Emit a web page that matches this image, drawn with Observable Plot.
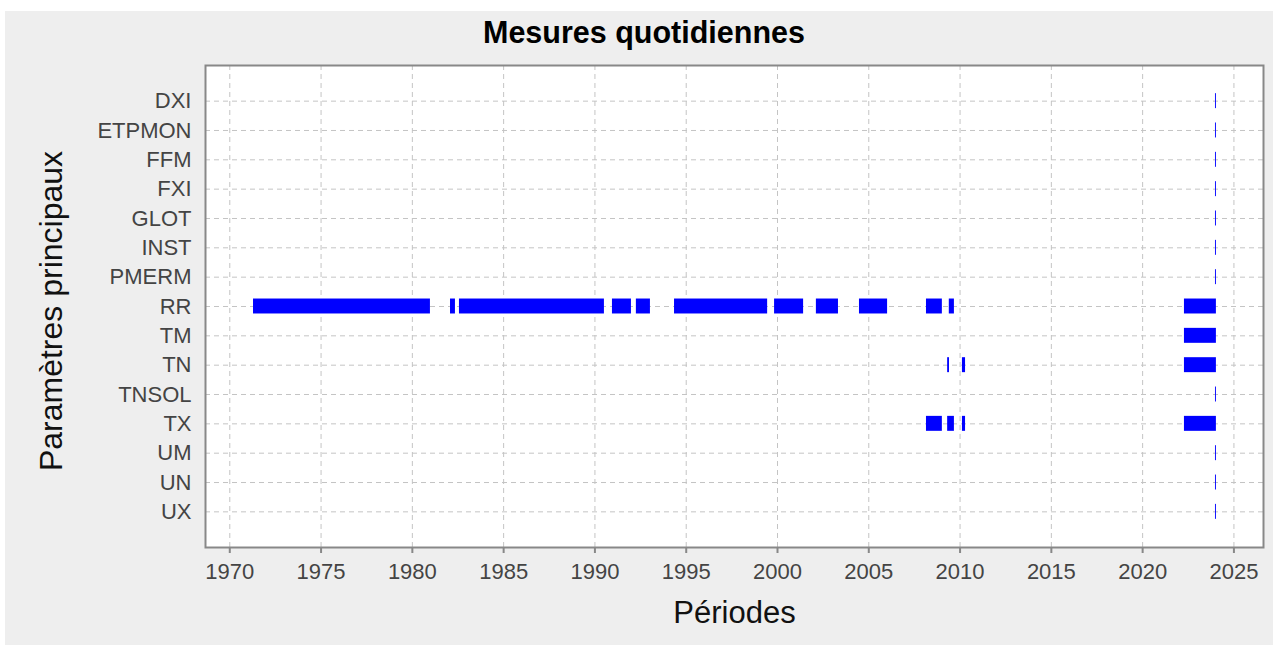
<!DOCTYPE html>
<html><head><meta charset="utf-8">
<script src="https://cdn.jsdelivr.net/npm/d3@7"></script>
<script src="https://cdn.jsdelivr.net/npm/@observablehq/plot@0.6"></script>
<style>
html,body{margin:0;padding:0;background:#fff;}
#panel{position:absolute;left:5px;top:11px;width:1268px;height:634px;background:#eeeeee;font-family:"Liberation Sans",Arial,sans-serif;}
#title{position:absolute;left:0;top:6px;width:1278px;text-align:center;font-weight:bold;font-size:30.5px;line-height:30px;color:#000;}
#chart{position:absolute;left:0;top:44px;}
</style></head><body>
<div id="panel"><div id="title">Mesures quotidiennes</div><div id="chart"></div></div>
<script>
const params = ["DXI","ETPMON","FFM","FXI","GLOT","INST","PMERM","RR","TM","TN","TNSOL","TX","UM","UN","UX"];

const segParam = [
  "RR","RR","RR","RR","RR","RR","RR","RR","RR","RR","RR","RR",
  "TM",
  "TN","TN","TN",
  "TX","TX","TX","TX",
  "DXI","ETPMON","FFM","FXI","GLOT","INST","PMERM","TNSOL","UM","UN","UX"
];
const segStart = [
  1971.30,1982.09,1982.58,1990.96,1992.27,1994.36,1999.84,2002.13,2004.49,2008.16,2009.41,2022.29,
  2022.29,
  2009.32,2010.13,2022.29,
  2008.16,2009.32,2010.13,2022.29,
  2023.99,2023.99,2023.99,2023.99,2023.99,2023.99,2023.99,2023.99,2023.99,2023.99,2023.99
];
const segEnd = [
  1980.99,1982.36,1990.52,1992.00,1993.04,1999.46,2001.43,2003.34,2006.03,2009.03,2009.69,2024.04,
  2024.04,
  2009.42,2010.30,2024.04,
  2009.03,2009.69,2010.30,2024.04,
  2024.04,2024.04,2024.04,2024.04,2024.04,2024.04,2024.04,2024.04,2024.04,2024.04,2024.04
];
const yearTicks = [1970,1975,1980,1985,1990,1995,2000,2005,2010,2015,2020,2025];
const xDomain = [1968.67, 2026.62];
const xLabel = "Périodes";
const yLabel = "Paramètres principaux";

const segments = segParam.map((p, i) => ({param: p, start: segStart[i], end: segEnd[i]}));

const plot = Plot.plot({
  width: 1268, height: 590,
  marginLeft: 200, marginRight: 10, marginTop: 10, marginBottom: 98,
  style: {background: "transparent", fontFamily: '"Liberation Sans", Arial, sans-serif', overflow: "visible"},
  x: {domain: xDomain, label: null},
  y: {type: "band", domain: params, paddingInner: 0.49, paddingOuter: 0.96, align: 0.5, round: false, label: null},
  marks: [
    Plot.frame({fill: "white", stroke: "none"}),
    Plot.gridX(yearTicks, {stroke: "#c4c4c4", strokeOpacity: 1, strokeDasharray: "5,4"}),
    Plot.gridY(params, {stroke: "#c4c4c4", strokeOpacity: 1, strokeDasharray: "5,4"}),
    Plot.barX(segments, {x1: "start", x2: "end", y: "param", fill: "#0000ff"}),
    Plot.frame({stroke: "#888", strokeWidth: 2}),
    Plot.axisX(yearTicks, {tickSize: 6, tickPadding: 10, tickFormat: d => String(d), stroke: "#888", strokeWidth: 2, fill: "#444", fontSize: 22, label: null}),
    Plot.axisY(params, {tickSize: 0, tickPadding: 14, fill: "#444", fontSize: 22, label: null}),
    Plot.text([xLabel], {text: d => d, frameAnchor: "bottom", textAnchor: "middle", lineAnchor: "bottom", dy: 75.7, fontSize: 31, fill: "#111"}),
    Plot.text([yLabel], {text: d => d, frameAnchor: "left", textAnchor: "middle", rotate: -90, dx: -153.5, dy: 4.5, fontSize: 32, fill: "#111"})
  ]
});
document.getElementById("chart").appendChild(plot);
</script>
</body></html>
